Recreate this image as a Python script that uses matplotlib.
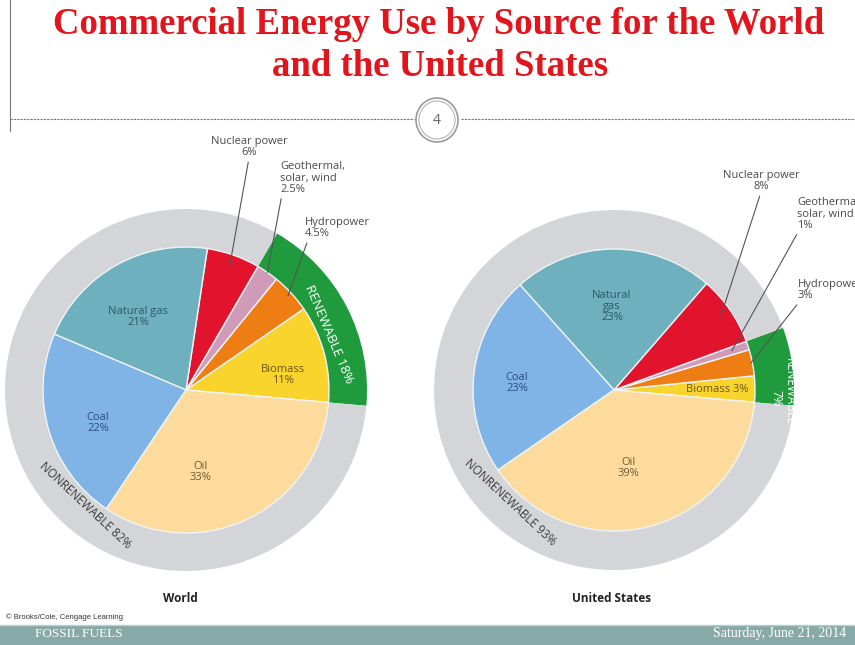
import numpy as np
import matplotlib.pyplot as plt
from matplotlib.patches import Ellipse, Rectangle

W, H = 855, 645

# slices, counterclockwise from just below 3 o'clock
sources = ["Biomass", "Hydropower", "Geothermal, solar, wind", "Nuclear power",
           "Natural gas", "Coal", "Oil"]
world_share = [11, 4.5, 2.5, 6, 21, 22, 33]
us_share = [3, 3, 1, 8, 23, 23, 39]
renewable = ["Biomass", "Hydropower", "Geothermal, solar, wind"]

slice_colors = ["#f8d42c", "#ee7e14", "#d09bb9", "#e2132d",
                "#6eb0bd", "#80b3e6", "#fddb9d"]
GREEN = "#1f9a3c"
GRAY = "#d4d5d8"
LABEL = "#4a4a4a"
FONT = "Open Sans"
FS = 8


def P(x, y):
    # picture pixels (y down) -> data coords (y up)
    return (x, H - y)


def fmt(v):
    return f"{v:g}%"


fig = plt.figure(figsize=(8.55, 6.45), dpi=100)
ax = fig.add_axes([0, 0, 1, 1])


def draw_pie(values, center, r_in, r_out):
    ren = sum(v for s, v in zip(sources, values) if s in renewable)
    ax.pie([ren, 100 - ren], radius=r_out, center=center, startangle=-5,
           colors=[GREEN, GRAY], wedgeprops=dict(width=r_out - r_in, linewidth=0))
    wedges, _ = ax.pie(values, radius=r_in, center=center, startangle=-5,
                       colors=slice_colors,
                       wedgeprops=dict(edgecolor="#eef4f7", linewidth=1.0))
    return wedges, ren


def leader(wedge, center, r, text, xytext, ha, relpos, frac=0.92):
    th = np.deg2rad((wedge.theta1 + wedge.theta2) / 2)
    xy = (center[0] + frac * r * np.cos(th), center[1] + frac * r * np.sin(th))
    ax.annotate(text, xy=xy, xytext=xytext, ha=ha, va="center", fontsize=FS,
                family=FONT, color=LABEL, linespacing=1.0,
                arrowprops=dict(arrowstyle="-", color="#555555", lw=0.8,
                                relpos=relpos, shrinkA=1, shrinkB=0))


def inner(xy, text, color, ls=1.05):
    ax.text(*xy, text, ha="center", va="center", fontsize=FS, family=FONT,
            color=color, linespacing=ls)


# ---- World ----
cw = P(186, 390)
ww, wren = draw_pie(world_share, cw, 143, 181)
inner(P(138, 317), "Natural gas\n" + fmt(world_share[4]), "#2f5864")
inner(P(98, 423), "Coal\n" + fmt(world_share[5]), "#2b4e7c")
inner(P(200, 472), "Oil\n" + fmt(world_share[6]), "#6e5a3a")
inner(P(283, 375), "Biomass\n" + fmt(world_share[0]), "#6a5514")
leader(ww[3], cw, 143, "Nuclear power\n" + fmt(world_share[3]), P(249, 147), "center", (0.5, 0))
leader(ww[2], cw, 143, "Geothermal,\nsolar, wind\n" + fmt(world_share[2]), P(280, 178), "left", (0.03, 0), 1.0)
leader(ww[1], cw, 143, "Hydropower\n" + fmt(world_share[1]), P(305, 228), "left", (0.05, 0), 0.97)
ax.text(*P(329, 334), f"RENEWABLE {wren:g}%", rotation=-67, ha="center", va="center",
        fontsize=9.5, family=FONT, color="white")
ax.text(*P(85, 505), f"NONRENEWABLE {100 - wren:g}%", rotation=-43, ha="center", va="center",
        fontsize=8.5, family=FONT, color="#3c3c3c")
ax.text(*P(180, 598), "World", ha="center", va="center", fontsize=8.5,
        family=FONT, weight="bold", color="#222222")

# ---- United States ----
cu = P(614, 390)
uw, uren = draw_pie(us_share, cu, 141, 180)
inner(P(612, 307), "Natural\ngas\n" + fmt(us_share[4]), "#2f5864", 1.0)
inner(P(517, 383), "Coal\n" + fmt(us_share[5]), "#2b4e7c")
inner(P(628, 468), "Oil\n" + fmt(us_share[6]), "#6e5a3a")
inner(P(717, 390), "Biomass " + fmt(us_share[0]), "#6a5514")
leader(uw[3], cu, 141, "Nuclear power\n" + fmt(us_share[3]), P(761, 181), "center", (0.5, 0))
leader(uw[2], cu, 141, "Geothermal,\nsolar, wind\n" + fmt(us_share[2]), P(797, 214), "left", (0.03, 0), 0.88)
leader(uw[1], cu, 141, "Hydropower\n" + fmt(us_share[1]), P(798, 290), "left", (0.03, 0), 0.99)
ax.text(*P(789, 392), "RENEWABLE", rotation=-90, ha="center", va="center",
        fontsize=8.5, family=FONT, color="white")
ax.text(*P(776, 398), f"{uren:g}%", rotation=-90, ha="center", va="center",
        fontsize=8.5, family=FONT, color="white")
ax.text(*P(510, 502), f"NONRENEWABLE {100 - uren:g}%", rotation=-43, ha="center", va="center",
        fontsize=8.5, family=FONT, color="#3c3c3c")
ax.text(*P(612, 598), "United States", ha="center", va="center", fontsize=8.5,
        family=FONT, weight="bold", color="#222222")

# ---- slide decoration ----
ax.text(*P(439, 25), "Commercial Energy Use by Source for the World", ha="center",
        va="center", fontsize=26.5, family="Liberation Serif", weight="bold", color="#e3141b")
ax.text(*P(440, 66), "and the United States", ha="center",
        va="center", fontsize=26.5, family="Liberation Serif", weight="bold", color="#e3141b")
ax.plot([10, 414], [H - 119, H - 119], color="#777777", lw=0.8, ls=(0, (2, 1)))
ax.plot([461, W], [H - 119, H - 119], color="#777777", lw=0.8, ls=(0, (2, 1)))
ax.plot([10, 10], [H, H - 131], color="#777777", lw=0.8)
ax.add_patch(Ellipse(P(437, 120), 42, 44, facecolor="white", edgecolor="#9a9a9a", lw=1.2))
ax.add_patch(Ellipse(P(437, 120), 36, 38, facecolor="white", edgecolor="#b5b5b5", lw=0.8))
ax.text(*P(437, 120), "4", ha="center", va="center", fontsize=10, family=FONT, color="#666666")

ax.text(*P(6, 617), "\u00a9 Brooks/Cole, Cengage Learning", ha="left", va="center",
        fontsize=5.5, family="Liberation Sans", color="#333333")
ax.add_patch(Rectangle((0, 0), W, 645 - 625, facecolor="#87a9a7", edgecolor="none"))
ax.plot([0, W], [H - 625, H - 625], color="#b9cfcd", lw=1)
ax.text(*P(35, 634), "FOSSIL FUELS", ha="left", va="center", fontsize=9.5,
        family="Liberation Serif", color="white")
ax.text(*P(846, 634), "Saturday, June 21, 2014", ha="right", va="center", fontsize=10,
        family="Liberation Serif", color="white")

ax.set_xlim(0, W)
ax.set_ylim(0, H)
ax.set_aspect("auto")
ax.axis("off")

fig.savefig("out.png", dpi=100)
